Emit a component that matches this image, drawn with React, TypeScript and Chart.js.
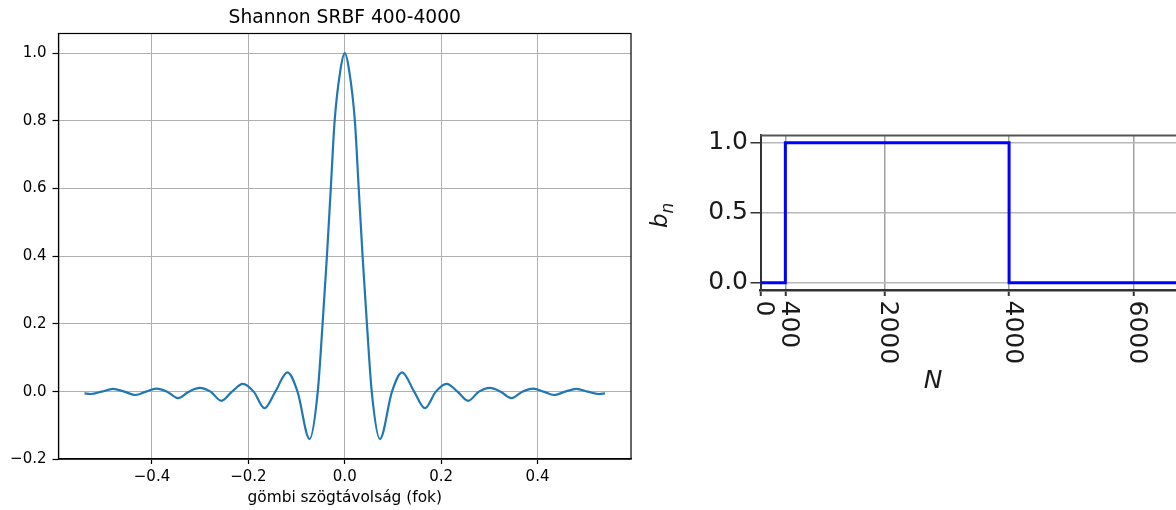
import React, { useEffect, useRef } from "react";
import { Chart, registerables } from "chart.js";

Chart.register(...registerables);

// ---- Left panel: Shannon SRBF kernel ----
const angleDeg = [
  -0.54, -0.527, -0.504, -0.481, -0.4575, -0.434, -0.4125, -0.391, -0.3685, -0.346,
  -0.3235, -0.301, -0.2785, -0.256, -0.234, -0.2115, -0.189, -0.1665, -0.144, -0.119,
  -0.098, -0.073, -0.056, -0.046, -0.037, -0.029, -0.021, -0.009, 0,
  0.009, 0.021, 0.029, 0.037, 0.046, 0.056, 0.073, 0.098, 0.119, 0.144,
  0.1665, 0.189, 0.2115, 0.234, 0.256, 0.2785, 0.301, 0.3235, 0.346, 0.3685,
  0.391, 0.4125, 0.434, 0.4575, 0.481, 0.504, 0.527, 0.54,
];
const kernelValue = [
  -0.005, -0.007, 0, 0.008, 0, -0.01, 0, 0.009, 0, -0.019,
  0, 0.011, 0, -0.027, 0, 0.023, 0, -0.049, 0, 0.057,
  0, -0.14, 0, 0.2, 0.4, 0.6, 0.8, 0.95, 1.0,
  0.95, 0.8, 0.6, 0.4, 0.2, 0, -0.14, 0, 0.057, 0,
  -0.049, 0, 0.023, 0, -0.027, 0, 0.011, 0, -0.019, 0,
  0.009, 0, -0.01, 0, 0.008, 0, -0.007, -0.005,
];
const angleTicks = [-0.4, -0.2, 0, 0.2, 0.4];
const angleTickLabels = ["\u22120.4", "\u22120.2", "0.0", "0.2", "0.4"];
const kernelTicks = [-0.2, 0, 0.2, 0.4, 0.6, 0.8, 1.0];
const kernelTickLabels = ["\u22120.2", "0.0", "0.2", "0.4", "0.6", "0.8", "1.0"];
const leftTitle = "Shannon SRBF 400-4000";
const leftXTitle = "gömbi szögtávolság (fok)";

// ---- Right panel: band-limited coefficients b_n ----
const degreeN = [0, 400, 4000, 7000];
const coeffB = [0, 1, 0, 0];
const nTicks = [0, 400, 2000, 4000, 6000];
const nTickLabels = ["0", "400", "2000", "4000", "6000"];
const bTicks = [0, 0.5, 1.0];
const bTickLabels = ["0.0", "0.5", "1.0"];
const rightXTitle = "N";
const rightYTitleMain = "b";
const rightYTitleSub = "n";

const FONT = '"DejaVu Sans", "Liberation Sans", sans-serif';

function labelFor(values: number[], labels: string[]) {
  return (v: any) => {
    const i = values.findIndex((t) => Math.abs(t - Number(v)) < 1e-9);
    return i >= 0 ? labels[i] : "";
  };
}

const leftFrame = {
  id: "leftFrame",
  afterDraw(chart: any) {
    const { ctx, chartArea: a } = chart;
    ctx.save();
    ctx.strokeStyle = "#000";
    ctx.lineWidth = 1.2;
    ctx.strokeRect(a.left, a.top, a.right - a.left, a.bottom - a.top);
    ctx.fillStyle = "#000";
    ctx.font = `18.7px ${FONT}`;
    ctx.textAlign = "center";
    ctx.textBaseline = "alphabetic";
    ctx.fillText(leftTitle, (a.left + a.right) / 2, 22.7);
    ctx.restore();
  },
};

const rightDecor = {
  id: "rightDecor",
  afterDraw(chart: any) {
    const { ctx, chartArea: a, scales } = chart;
    const xs = scales.x;
    ctx.save();
    ctx.strokeStyle = "#555";
    ctx.lineWidth = 2;
    ctx.beginPath();
    ctx.moveTo(a.left, a.top);
    ctx.lineTo(a.right, a.top);
    ctx.stroke();

    ctx.fillStyle = "#1a1a1a";
    ctx.font = `25px ${FONT}`;
    ctx.textAlign = "left";
    ctx.textBaseline = "middle";
    nTicks.forEach((v, i) => {
      const px = xs.getPixelForValue(v);
      ctx.save();
      ctx.translate(px + 3, a.bottom + 10.5);
      ctx.rotate(Math.PI / 2);
      ctx.fillText(nTickLabels[i], 0, 0);
      ctx.restore();
    });

    ctx.font = `italic 25px ${FONT}`;
    ctx.textAlign = "center";
    ctx.textBaseline = "middle";
    ctx.fillText(rightXTitle, 293, 281);

    ctx.save();
    ctx.translate(27, 128);
    ctx.rotate(-Math.PI / 2);
    ctx.textAlign = "left";
    ctx.textBaseline = "alphabetic";
    ctx.font = `italic 23px ${FONT}`;
    ctx.fillText(rightYTitleMain, 0, 0);
    const w = ctx.measureText(rightYTitleMain).width;
    ctx.font = `italic 17px ${FONT}`;
    ctx.fillText(rightYTitleSub, w, 6);
    ctx.restore();

    ctx.restore();
  },
};

export default function App() {
  const leftRef = useRef<HTMLCanvasElement>(null);
  const rightRef = useRef<HTMLCanvasElement>(null);

  useEffect(() => {
    const left = new Chart(leftRef.current as HTMLCanvasElement, {
      type: "line",
      data: {
        datasets: [
          {
            data: angleDeg.map((x, i) => ({ x, y: kernelValue[i] })),
            borderColor: "#1f77b4",
            borderWidth: 2.2,
            pointRadius: 0,
            cubicInterpolationMode: "monotone",
            fill: false,
          },
        ],
      },
      options: {
        animation: false,
        responsive: false,
        layout: { padding: { top: 33.5, right: 9, bottom: 0, left: 0 } },
        plugins: {
          legend: { display: false },
          tooltip: { enabled: false },
          title: { display: false },
        },
        scales: {
          x: {
            type: "linear",
            min: -0.594,
            max: 0.594,
            afterBuildTicks: (s: any) => {
              s.ticks = angleTicks.map((v) => ({ value: v }));
            },
            afterFit: (s: any) => {
              s.height = 51;
            },
            ticks: {
              callback: labelFor(angleTicks, angleTickLabels),
              font: { family: FONT, size: 15 },
              color: "#000",
              padding: 3.7,
              maxRotation: 0,
              autoSkip: false,
            },
            grid: { color: "#b0b0b0", lineWidth: 1, tickLength: 5, tickColor: "#000", tickWidth: 1.2 },
            border: { color: "#000", width: 1.2 },
            title: {
              display: true,
              text: leftXTitle,
              font: { family: FONT, size: 15.4 },
              color: "#000",
              padding: { top: 0, bottom: 2.5 },
            },
          },
          y: {
            type: "linear",
            min: -0.199,
            max: 1.058,
            afterBuildTicks: (s: any) => {
              s.ticks = kernelTicks.map((v) => ({ value: v }));
            },
            afterFit: (s: any) => {
              s.width = 58.5;
            },
            ticks: {
              callback: labelFor(kernelTicks, kernelTickLabels),
              font: { family: FONT, size: 15 },
              color: "#000",
              padding: 6,
              autoSkip: false,
            },
            grid: { color: "#b0b0b0", lineWidth: 1, tickLength: 6, tickColor: "#000", tickWidth: 1.2 },
            border: { color: "#000", width: 1.2 },
          },
        },
      } as any,
      plugins: [leftFrame],
    });

    const right = new Chart(rightRef.current as HTMLCanvasElement, {
      type: "line",
      data: {
        datasets: [
          {
            data: degreeN.map((x, i) => ({ x, y: coeffB[i] })),
            borderColor: "#0000ff",
            borderWidth: 3,
            pointRadius: 0,
            stepped: "before",
            fill: false,
          },
        ],
      },
      options: {
        animation: false,
        responsive: false,
        layout: { padding: { top: 35.4, right: 0, bottom: 0, left: 0 } },
        plugins: {
          legend: { display: false },
          tooltip: { enabled: false },
          title: { display: false },
        },
        scales: {
          x: {
            type: "linear",
            min: 0,
            max: 6686,
            afterBuildTicks: (s: any) => {
              s.ticks = nTicks.map((v) => ({ value: v }));
            },
            afterFit: (s: any) => {
              s.height = 110;
            },
            ticks: { display: false },
            grid: { color: "#a0a0a0", lineWidth: 1.5, tickLength: 6, tickColor: "#333", tickWidth: 2 },
            border: { color: "#333", width: 2.5 },
          },
          y: {
            type: "linear",
            min: -0.052,
            max: 1.052,
            afterBuildTicks: (s: any) => {
              s.ticks = bTicks.map((v) => ({ value: v }));
            },
            afterFit: (s: any) => {
              s.width = 120.5;
            },
            ticks: {
              callback: labelFor(bTicks, bTickLabels),
              font: { family: FONT, size: 25 },
              color: "#1a1a1a",
              padding: 2.5,
              autoSkip: false,
            },
            grid: { color: "#b8b8b8", lineWidth: 1.5, tickLength: 10, tickColor: "#333", tickWidth: 1.5 },
            border: { color: "#333", width: 2 },
          },
        },
      } as any,
      plugins: [rightDecor],
    });

    return () => {
      left.destroy();
      right.destroy();
    };
  }, []);

  return (
    <div
      style={{
        position: "fixed",
        left: 0,
        top: 0,
        width: 1176,
        height: 510,
        background: "#fff",
        overflow: "hidden",
      }}
    >
      <canvas
        ref={leftRef}
        width={640}
        height={510}
        style={{ position: "absolute", left: 0, top: 0, width: 640, height: 510 }}
      />
      <canvas
        ref={rightRef}
        width={536}
        height={300}
        style={{ position: "absolute", left: 640, top: 100, width: 536, height: 300 }}
      />
    </div>
  );
}
